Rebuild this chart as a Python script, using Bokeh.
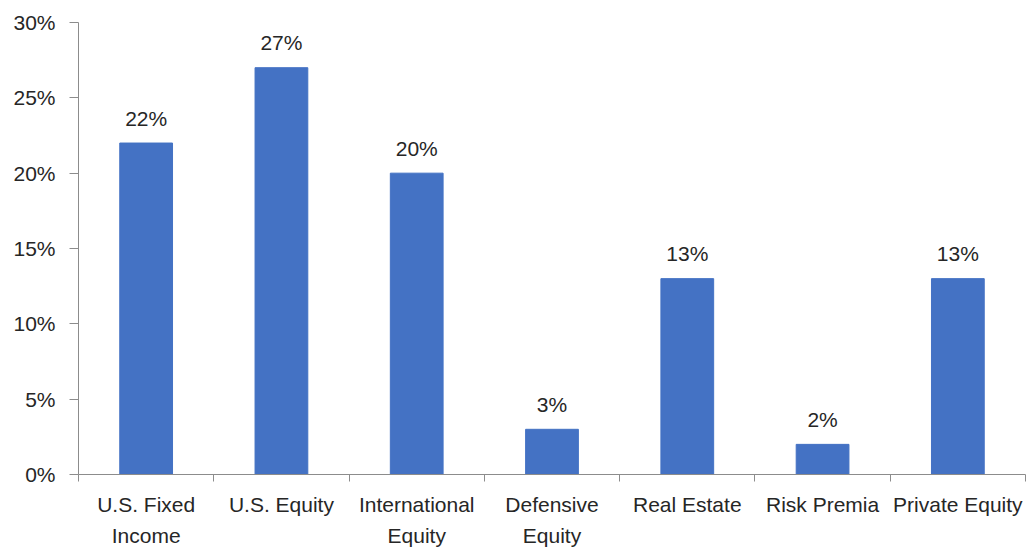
from bokeh.plotting import figure
from bokeh.models import (ColumnDataSource, Range1d, FixedTicker, NumeralTickFormatter,
                          LinearAxis)
from bokeh.core.properties import value
from bokeh.embed import file_html
from bokeh.resources import INLINE

categories = ["U.S. Fixed\nIncome", "U.S. Equity", "International\nEquity", "Defensive\nEquity",
              "Real Estate", "Risk Premia", "Private Equity"]
shares = [0.22, 0.27, 0.20, 0.03, 0.13, 0.02, 0.13]
share_labels = ["22%", "27%", "20%", "3%", "13%", "2%", "13%"]
y_ticks = [0, 0.05, 0.10, 0.15, 0.20, 0.25, 0.30]

FONT = "Liberation Sans"
TXT = "#262626"
AX = "#8c8c8c"
FS = "21px"

n = len(categories)
centers = [i + 0.5 for i in range(n)]
bounds = list(range(n + 1))
src = ColumnDataSource(dict(x=centers, v=shares, lab=share_labels))

p = figure(width=1032, height=549, x_range=Range1d(0, n), y_range=Range1d(0, 0.30),
           output_backend="svg", toolbar_location=None, x_axis_location=None,
           min_border_left=78, min_border_right=7, min_border_top=22, min_border_bottom=0)
p.outline_line_color = None
p.xgrid.grid_line_color = None
p.ygrid.grid_line_color = None
p.background_fill_color = "white"

p.vbar(x="x", top="v", width=0.39, source=src, fill_color="#4472C4", line_color="#4472C4")
p.text(x="x", y="v", text="lab", source=src, text_align="center", text_baseline="middle",
       y_offset=-25, text_font=value(FONT), text_font_size=FS, text_color=TXT)

# y axis
ya = p.yaxis[0]
ya.ticker = FixedTicker(ticks=y_ticks)
ya.formatter = NumeralTickFormatter(format="0%")
ya.major_label_text_font = FONT
ya.major_label_text_font_size = FS
ya.major_label_text_color = TXT
ya.axis_line_color = AX
ya.major_tick_line_color = AX
ya.major_tick_out = 9
ya.major_tick_in = 0
ya.minor_tick_line_color = None
ya.major_label_standoff = 14

# x axis: labels at category centres, minor ticks at category boundaries
ca = LinearAxis(ticker=FixedTicker(ticks=centers, minor_ticks=bounds))
ca.major_label_overrides = {c: lab for c, lab in zip(centers, categories)}
ca.axis_line_color = AX
ca.major_tick_line_color = None
ca.major_tick_out = 0
ca.major_tick_in = 0
ca.minor_tick_line_color = AX
ca.minor_tick_out = 7
ca.minor_tick_in = 0
ca.major_label_text_font = FONT
ca.major_label_text_font_size = FS
ca.major_label_text_color = TXT
ca.major_label_text_line_height = 1.35
ca.major_label_standoff = 11
p.add_layout(ca, "below")

open("out.html", "w").write(file_html(p, INLINE))
